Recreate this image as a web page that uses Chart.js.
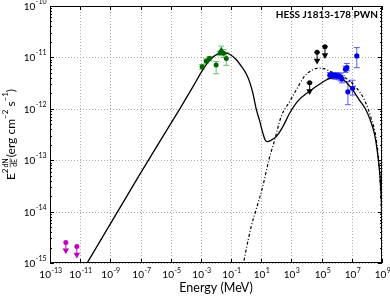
<!DOCTYPE html>
<html lang="en">
<head>
<meta charset="UTF-8">
<title>HESS J1813-178 PWN</title>
<script src="https://cdn.jsdelivr.net/npm/chart.js"></script>
<style>
    html, body { margin: 0; padding: 0; background: #fff; }
    canvas { display: block; }
</style>
</head>
<body>
<canvas id="sed" width="390" height="296"></canvas>
<script>
// energies in MeV, fluxes as E^2 dN/dE in erg cm^-2 s^-1

// total model (synchrotron + IC)
const modelE = [2.5e-11, 8.5e-8, 4.0e-5, 3.2e-4, 1.26e-3, 3.2e-3, 7.9e-3, 2.0e-2, 4.0e-2, 7.9e-2,
    0.2, 0.5, 1, 1.78, 2.8, 4.6, 7.6, 12.6, 17.8, 25, 40, 100, 270, 740, 2630,
    1.6e4, 7.2e4, 3.4e5, 1.17e6, 3.3e6, 1.17e7, 3.2e7, 7.9e7, 1.58e8, 3.2e8, 5.0e8, 7.1e8, 8.9e8, 1e9];
const modelF = [9.3e-16, 5.2e-14, 1.0e-12, 2.8e-12, 5.6e-12, 8.3e-12, 1.07e-11, 1.23e-11, 1.23e-11, 1.15e-11,
    9.3e-12, 6.6e-12, 4.8e-12, 3.2e-12, 2.0e-12, 1.0e-12, 6.0e-13, 3.4e-13, 2.5e-13, 2.3e-13, 2.4e-13, 2.9e-13, 4.5e-13, 8.1e-13, 1.41e-12,
    2.2e-12, 3.0e-12, 3.9e-12, 4.1e-12, 3.5e-12, 2.3e-12, 1.48e-12, 1.0e-12, 6.3e-13, 3.2e-13, 1.41e-13, 5.6e-14, 2.0e-14, 1.0e-14];

// second model, dash-dot
const altE = [0.56, 2.14, 4.6, 12.6, 31.6, 76, 209, 794, 2090, 7400, 2.6e4, 7.9e4, 5.5e5, 4.3e6, 1.95e7, 6.9e7, 1.9e8, 4.2e8, 6.9e8, 8.9e8, 1e9];
const altF = [7.9e-16, 5.1e-15, 1.1e-14, 3.1e-14, 1.0e-13, 2.45e-13, 7.1e-13, 1.41e-12, 2.34e-12, 4.3e-12, 5.75e-12, 6.2e-12, 5.1e-12, 3.9e-12, 2.6e-12, 1.48e-12, 6.6e-13, 2.5e-13, 5.6e-14, 9.3e-15, 1.15e-15];

// X-ray points (green)
const xrayE = [1.2e-3, 2.24e-3, 3.7e-3, 1.02e-2, 1.7e-2, 2.24e-2, 3.2e-2, 4.8e-2];
const xrayF = [6.6e-12, 8.5e-12, 9.5e-12, 7.1e-12, 1.2e-11, 1.38e-11, 1.2e-11, 9.5e-12];
const xrayLo = [5.9e-12, 7.7e-12, 8.6e-12, 4.8e-12, 1.08e-11, 1.12e-11, 1.0e-11, 7.0e-12];
const xrayHi = [7.3e-12, 9.3e-12, 1.04e-11, 8.3e-12, 1.32e-11, 1.66e-11, 1.42e-11, 1.25e-11];
const xrayMarks = ['circle', 'circle', 'circle', 'circle', 'triangle', 'triangle', 'circle', 'circle'];

// TeV points (blue)
const tevE = [3.5e5, 4.5e5, 5.6e5, 7.1e5, 8.9e5, 1.12e6, 1.41e6, 1.78e6, 2.24e6, 3.8e6, 4.7e6, 5.5e6, 1.12e7, 2.14e7];
const tevF = [4.5e-12, 4.45e-12, 4.5e-12, 4.4e-12, 4.45e-12, 4.3e-12, 4.35e-12, 4.2e-12, 3.8e-12, 5.9e-12, 6.3e-12, 2.14e-12, 2.5e-12, 1.07e-11];
const tevLo = [3.9e-12, 3.85e-12, 3.9e-12, 3.8e-12, 3.85e-12, 3.7e-12, 3.7e-12, 3.5e-12, 3.2e-12, 5.1e-12, 5.5e-12, 1.2e-12, 1.85e-12, 6.3e-12];
const tevHi = [5.1e-12, 5.05e-12, 5.1e-12, 5.0e-12, 5.05e-12, 4.9e-12, 5.0e-12, 4.9e-12, 4.4e-12, 6.7e-12, 7.6e-12, 3.4e-12, 3.6e-12, 1.55e-11];

// GeV upper limits (black)
const gevE = [1.6e4, 5.0e4, 1.66e5];
const gevELo = [1.0e4, 3.2e4, 1.05e5];
const gevEHi = [2.5e4, 7.9e4, 2.6e5];
const gevF = [3.2e-12, 1.26e-11, 1.62e-11];
const gevArrow = [2.2e-12, 8.6e-12, 1.1e-11];

// radio upper limits (magenta)
const radioE = [1.12e-12, 6.0e-12];
const radioF = [2.5e-15, 2.1e-15];
const radioArrow = [1.75e-15, 1.45e-15];

// axis ticks (powers of ten)
const xTickExps = [-13, -11, -9, -7, -5, -3, -1, 1, 3, 5, 7, 9];
const yTickExps = [-15, -14, -13, -12, -11, -10];

const FONT = 'Lato, "DejaVu Sans", sans-serif';
const pts = (xs, ys) => xs.map((v, i) => ({ x: v, y: ys[i] }));

function seg(ctx, x1, y1, x2, y2) {
    ctx.beginPath(); ctx.moveTo(x1, y1); ctx.lineTo(x2, y2); ctx.stroke();
}

function yErrors(ctx, xs, ys, E, lo, hi, color) {
    ctx.strokeStyle = color; ctx.lineWidth = 1;
    E.forEach((e, i) => {
        const px = xs.getPixelForValue(e);
        const p1 = ys.getPixelForValue(lo[i]), p2 = ys.getPixelForValue(hi[i]);
        seg(ctx, px, p1, px, p2);
        seg(ctx, px - 3, p1, px + 3, p1);
        seg(ctx, px - 3, p2, px + 3, p2);
    });
}

function powLabel(ctx, x, y, exp, align) {
    const base = '10', sup = String(exp);
    ctx.font = '10px ' + FONT; const wb = ctx.measureText(base).width;
    ctx.font = '7px ' + FONT; const ws = ctx.measureText(sup).width;
    const x0 = align === 'right' ? x - wb - ws : x - (wb + ws) / 2;
    ctx.textAlign = 'left'; ctx.textBaseline = 'middle';
    ctx.font = '10px ' + FONT; ctx.fillText(base, x0, y);
    ctx.font = '7px ' + FONT; ctx.fillText(sup, x0 + wb + 0.5, y - 4.5);
}

function yTitle(ctx, cx, cy) {
    const big = '12px ' + FONT, sup = '8px ' + FONT, fr = '7px ' + FONT;
    const parts = [
        { t: 'E', f: big, dy: 0 }, { t: '2', f: sup, dy: -5.5 },
        { frac: ['dN', 'dE'] },
        { t: '(erg cm', f: big, dy: 0 }, { t: '\u22122', f: sup, dy: -5.5 },
        { t: ' s', f: big, dy: 0 }, { t: '\u22121', f: sup, dy: -5.5 },
        { t: ')', f: big, dy: 0 }
    ];
    ctx.save();
    ctx.translate(cx, cy); ctx.rotate(-Math.PI / 2);
    let w = 0;
    parts.forEach(p => {
        if (p.frac) { ctx.font = fr; p.w = Math.max(ctx.measureText(p.frac[0]).width, ctx.measureText(p.frac[1]).width) + 2; }
        else { ctx.font = p.f; p.w = ctx.measureText(p.t).width; }
        w += p.w;
    });
    let x = -w / 2;
    ctx.fillStyle = '#000'; ctx.strokeStyle = '#000'; ctx.textAlign = 'left';
    parts.forEach(p => {
        if (p.frac) {
            ctx.font = fr; ctx.textAlign = 'center';
            ctx.textBaseline = 'bottom'; ctx.fillText(p.frac[0], x + p.w / 2, -1.5);
            ctx.textBaseline = 'top'; ctx.fillText(p.frac[1], x + p.w / 2, 0);
            ctx.lineWidth = 0.6; seg(ctx, x + 1, -0.8, x + p.w - 1, -0.8);
            ctx.textAlign = 'left';
        } else {
            ctx.font = p.f; ctx.textBaseline = 'middle';
            ctx.fillText(p.t, x, p.dy);
        }
        x += p.w;
    });
    ctx.restore();
}

const sedDecor = {
    id: 'sedDecor',
    beforeDatasetsDraw(chart) {
        const { ctx, chartArea: a, scales: { x, y } } = chart;
        ctx.save();
        // dotted grid
        ctx.strokeStyle = '#a8a8a8'; ctx.lineWidth = 1; ctx.setLineDash([1, 2]);
        xTickExps.forEach(e => { const px = Math.round(x.getPixelForValue(10 ** e)) + 0.5; seg(ctx, px, a.top, px, a.bottom); });
        yTickExps.forEach(e => { const py = Math.round(y.getPixelForValue(10 ** e)) + 0.5; seg(ctx, a.left, py, a.right, py); });
        ctx.setLineDash([]);
        // error bars
        yErrors(ctx, x, y, xrayE, xrayLo, xrayHi, '#6cbf6c');
        yErrors(ctx, x, y, tevE, tevLo, tevHi, '#5a5aff');
        // upper limit stems
        ctx.strokeStyle = '#000';
        gevE.forEach((e, i) => {
            const px = x.getPixelForValue(e), py = y.getPixelForValue(gevF[i]);
            seg(ctx, px, py, px, y.getPixelForValue(gevArrow[i]));
            seg(ctx, x.getPixelForValue(gevELo[i]), py, x.getPixelForValue(gevEHi[i]), py);
        });
        ctx.strokeStyle = '#bf00bf';
        radioE.forEach((e, i) => {
            const px = x.getPixelForValue(e);
            seg(ctx, px, y.getPixelForValue(radioF[i]), px, y.getPixelForValue(radioArrow[i]));
        });
        ctx.restore();
    },
    afterDatasetsDraw(chart) {
        const { ctx, chartArea: a, scales: { x, y } } = chart;
        ctx.save();
        ctx.strokeStyle = '#000'; ctx.fillStyle = '#000'; ctx.lineWidth = 1;
        // frame
        ctx.strokeRect(Math.round(a.left) + 0.5, Math.round(a.top) + 0.5, Math.round(a.right - a.left) - 1, Math.round(a.bottom - a.top) - 1);
        // inward ticks
        xTickExps.forEach(e => {
            const px = Math.round(x.getPixelForValue(10 ** e)) + 0.5;
            seg(ctx, px, a.bottom, px, a.bottom - 4); seg(ctx, px, a.top, px, a.top + 4);
            powLabel(ctx, px, a.bottom + 12, e, 'center');
        });
        yTickExps.forEach(e => {
            const py = Math.round(y.getPixelForValue(10 ** e)) + 0.5;
            seg(ctx, a.left, py, a.left + 4, py); seg(ctx, a.right, py, a.right - 4, py);
            powLabel(ctx, a.left - 4, py, e, 'right');
            if (e < -10) {
                for (let m = 2; m < 10; m++) {
                    const pm = Math.round(y.getPixelForValue(m * 10 ** e)) + 0.5;
                    seg(ctx, a.left, pm, a.left + 2, pm); seg(ctx, a.right, pm, a.right - 2, pm);
                }
            }
        });
        // titles
        ctx.font = '12.5px ' + FONT; ctx.textAlign = 'center'; ctx.textBaseline = 'middle';
        ctx.fillText('Energy (MeV)', (a.left + a.right) / 2, 288);
        yTitle(ctx, 11, (a.top + a.bottom) / 2);
        ctx.font = 'bold 10px ' + FONT; ctx.textAlign = 'right';
        ctx.fillText('HESS J1813-178 PWN', a.right - 4, 15);
        ctx.restore();
    }
};

new Chart(document.getElementById('sed'), {
    type: 'scatter',
    data: {
        datasets: [
            { label: 'X-ray', data: pts(xrayE, xrayF), backgroundColor: '#006400', borderColor: '#006400',
              pointStyle: xrayMarks, pointRadius: xrayMarks.map(m => m === 'triangle' ? 3.5 : 2.5), borderWidth: 0 },
            { label: 'TeV', data: pts(tevE, tevF), backgroundColor: '#0000ee', borderColor: '#0000ee', pointRadius: 2.6, borderWidth: 0 },
            { label: 'GeV UL', data: pts(gevE, gevF), backgroundColor: '#000', pointRadius: 2.5, borderWidth: 0 },
            { label: 'GeV UL arrow', data: pts(gevE, gevArrow), backgroundColor: '#000', pointStyle: 'triangle', rotation: 180, pointRadius: 3.8, borderWidth: 0 },
            { label: 'Radio UL', data: pts(radioE, radioF), backgroundColor: '#bf00bf', pointRadius: 2.5, borderWidth: 0 },
            { label: 'Radio UL arrow', data: pts(radioE, radioArrow), backgroundColor: '#bf00bf', pointStyle: 'triangle', rotation: 180, pointRadius: 3.8, borderWidth: 0 },
            { label: 'Model 2', data: pts(altE, altF), showLine: true, borderColor: '#000', borderWidth: 1.2,
              borderDash: [3, 2, 1, 2], pointRadius: 0, cubicInterpolationMode: 'monotone', clip: 0 },
            { label: 'Model', data: pts(modelE, modelF), showLine: true, borderColor: '#000', borderWidth: 1.3,
              pointRadius: 0, cubicInterpolationMode: 'monotone', clip: 0 }
        ]
    },
    options: {
        responsive: false,
        animation: false,
        devicePixelRatio: 1,
        layout: { padding: { left: 0, right: 8, top: 6, bottom: 0 } },
        plugins: { legend: { display: false }, tooltip: { enabled: false } },
        scales: {
            x: {
                type: 'logarithmic', position: 'bottom', min: 1e-13, max: 1e9,
                afterBuildTicks: s => { s.ticks = xTickExps.map(e => ({ value: 10 ** e })); },
                afterFit: s => { s.height = 33; },
                ticks: { display: false }, grid: { display: false }, border: { display: false }
            },
            y: {
                type: 'logarithmic', position: 'left', min: 1e-15, max: 1e-10,
                afterBuildTicks: s => { s.ticks = yTickExps.map(e => ({ value: 10 ** e })); },
                afterFit: s => { s.width = 50; },
                ticks: { display: false }, grid: { display: false }, border: { display: false }
            }
        }
    },
    plugins: [sedDecor]
});
</script>
</body>
</html>
